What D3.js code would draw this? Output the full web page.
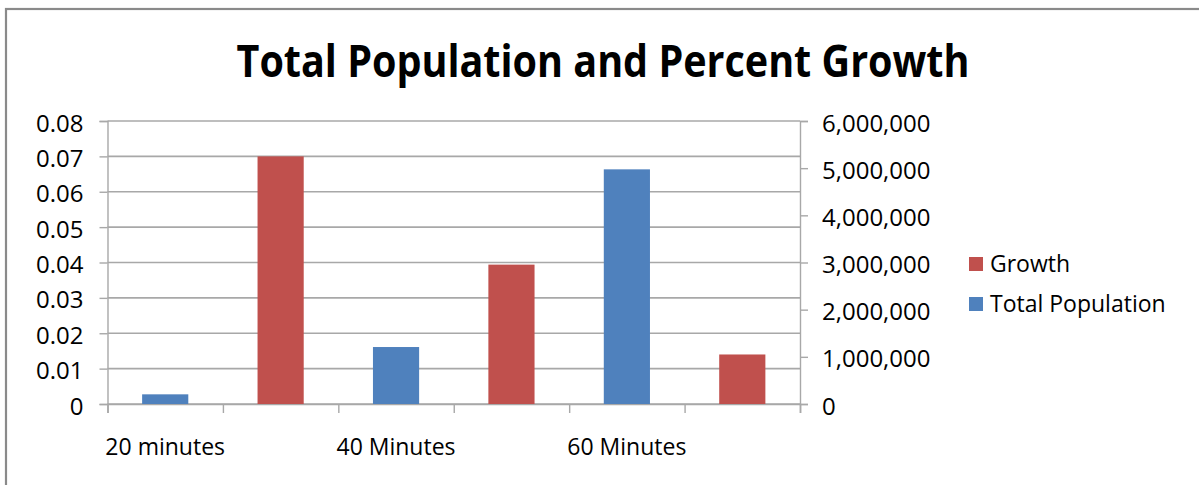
<!DOCTYPE html>
<html>
<head>
<meta charset="utf-8">
<script src="https://cdn.jsdelivr.net/npm/d3@7"></script>
<style>
  html, body { margin: 0; padding: 0; background: #fff; }
  svg { display: block; }
  text { font-family: "Open Sans", "DejaVu Sans", sans-serif; fill: #000; }
</style>
</head>
<body>
<svg id="chart" width="1199" height="485"></svg>
<script>
// ---- data ----
const categories = ["20 minutes", "", "40 Minutes", "", "60 Minutes", ""];
const growth = [null, 0.07, null, 0.0394, null, 0.014];
const totalPopulation = [205000, null, 1208000, null, 4975000, null];
const leftTicks = [0, 0.01, 0.02, 0.03, 0.04, 0.05, 0.06, 0.07, 0.08];
const rightTicks = [0, 1000000, 2000000, 3000000, 4000000, 5000000, 6000000];
const seriesNames = ["Growth", "Total Population"];
const seriesColors = ["#C0504D", "#4F81BD"];
const title = "Total Population and Percent Growth";

// ---- layout ----
const svg = d3.select("#chart");
const plotLeft = 107.5, plotRight = 800, plotTop = 121, plotBottom = 404;
const gridColor = "#a8a8a8";

// outer frame
svg.append("rect")
  .attr("x", 6).attr("y", 9)
  .attr("width", 1300).attr("height", 600)
  .attr("fill", "none").attr("stroke", "#8a8a8a").attr("stroke-width", 2.2);

// title
svg.append("text")
  .attr("x", 603).attr("y", 77)
  .attr("text-anchor", "middle")
  .attr("font-size", 44)
  .attr("font-weight", "bold")
  .attr("textLength", 733)
  .attr("lengthAdjust", "spacingAndGlyphs")
  .style("font-family", "'Liberation Sans Narrow', 'Open Sans', sans-serif")
  .text(title);

// scales
const x = d3.scaleBand()
  .domain(d3.range(categories.length))
  .range([plotLeft, plotRight])
  .paddingInner(0.6)
  .paddingOuter(0.3);
const xEdges = d3.scaleLinear().domain([0, categories.length]).range([plotLeft, plotRight]);
const yL = d3.scaleLinear().domain([0, 0.08]).range([plotBottom, plotTop]);
const yR = d3.scaleLinear().domain([0, 6000000]).range([plotBottom, plotTop]);

// gridlines
svg.append("g").selectAll("line")
  .data(leftTicks)
  .join("line")
  .attr("x1", plotLeft).attr("x2", plotRight)
  .attr("y1", d => yL(d)).attr("y2", d => yL(d))
  .attr("stroke", gridColor).attr("stroke-width", 1.6);

// left axis
const leftAxis = svg.append("g")
  .attr("transform", `translate(${plotLeft},0)`)
  .call(d3.axisLeft(yL).tickValues(leftTicks).tickSize(8).tickPadding(16)
    .tickFormat(d => d === 0 ? "0" : d3.format(".2f")(d)));
leftAxis.select(".domain").attr("stroke", gridColor).attr("stroke-width", 1.4);
leftAxis.selectAll(".tick line").attr("stroke", gridColor).attr("stroke-width", 1.4);
leftAxis.selectAll(".tick text")
  .attr("font-size", 24).attr("dy", "0.42em")
  .style("font-family", "'Open Sans', sans-serif").attr("fill", "#000");

// right axis
const rightAxis = svg.append("g")
  .attr("transform", `translate(${plotRight},0)`)
  .call(d3.axisRight(yR).tickValues(rightTicks).tickSize(8).tickPadding(14)
    .tickFormat(d3.format(",")));
rightAxis.select(".domain").attr("stroke", gridColor).attr("stroke-width", 1.4);
rightAxis.selectAll(".tick line").attr("stroke", gridColor).attr("stroke-width", 1.4);
rightAxis.selectAll(".tick text")
  .attr("font-size", 24).attr("dy", "0.42em")
  .style("font-family", "'Open Sans', sans-serif").attr("fill", "#000");

// bottom axis (category boundaries)
const bottomAxis = svg.append("g")
  .attr("transform", `translate(0,${plotBottom})`)
  .call(d3.axisBottom(xEdges).tickValues(d3.range(categories.length + 1)).tickSize(9).tickFormat(""));
bottomAxis.select(".domain").attr("stroke", gridColor).attr("stroke-width", 1.6);
bottomAxis.selectAll(".tick line").attr("stroke", gridColor).attr("stroke-width", 1.4);

// category labels
svg.append("g").selectAll("text")
  .data(categories)
  .join("text")
  .attr("x", (d, i) => x(i) + x.bandwidth() / 2)
  .attr("y", 455)
  .attr("text-anchor", "middle")
  .attr("font-size", 23)
  .text(d => d);

// bars
svg.append("g").selectAll("rect")
  .data(growth.map((v, i) => ({ v, i })).filter(d => d.v !== null))
  .join("rect")
  .attr("x", d => x(d.i))
  .attr("width", x.bandwidth())
  .attr("y", d => yL(d.v))
  .attr("height", d => plotBottom - yL(d.v))
  .attr("fill", seriesColors[0]);

svg.append("g").selectAll("rect")
  .data(totalPopulation.map((v, i) => ({ v, i })).filter(d => d.v !== null))
  .join("rect")
  .attr("x", d => x(d.i))
  .attr("width", x.bandwidth())
  .attr("y", d => yR(d.v))
  .attr("height", d => plotBottom - yR(d.v))
  .attr("fill", seriesColors[1]);

// legend
const legend = svg.append("g");
const legendY = [264, 304];
seriesNames.forEach((name, i) => {
  legend.append("rect")
    .attr("x", 969).attr("y", legendY[i] - 7)
    .attr("width", 14).attr("height", 14)
    .attr("fill", seriesColors[i]);
  legend.append("text")
    .attr("x", 990).attr("y", legendY[i])
    .attr("dy", "0.36em")
    .attr("font-size", 23)
    .text(name);
});
</script>
</body>
</html>
